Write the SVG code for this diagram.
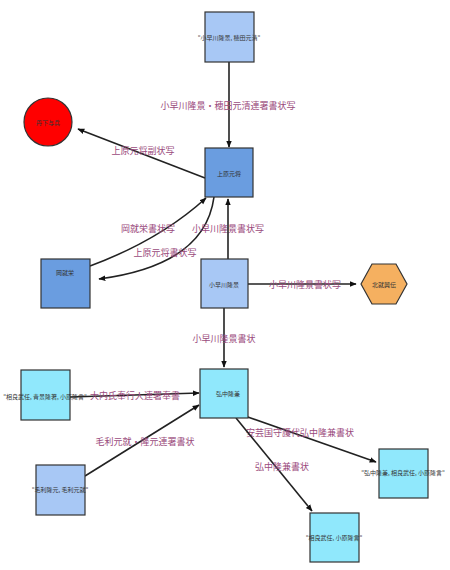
<svg xmlns="http://www.w3.org/2000/svg" width="450" height="570" viewBox="0 0 450 570">
<style>
.n{stroke:#333;stroke-width:1.2}
.nl{font-family:"Noto Sans CJK JP","Noto Sans",sans-serif;font-size:6px;fill:#333;text-anchor:middle;dominant-baseline:central}
.e{fill:none;stroke:#222;stroke-width:1.6;marker-end:url(#a)}
.el{font-family:"Noto Sans CJK JP","Noto Sans",sans-serif;font-size:9px;fill:#9a4a7c;text-anchor:middle;dominant-baseline:central}
</style>
<defs>
<marker id="a" viewBox="0 0 10 10" refX="9" refY="5" markerWidth="7" markerHeight="7" orient="auto" markerUnits="userSpaceOnUse">
<path d="M0,1 L10,5 L0,9 z" fill="#111"/>
</marker>
</defs>
<rect width="450" height="570" fill="#fff"/>
<g id="edges">
<path class="e" d="M229,62 L229,147"/>
<text class="el" x="228" y="105">小早川隆景・穂田元清連署書状写</text>
<path class="e" d="M205,178 L78,129"/>
<text class="el" x="143" y="150">上原元将副状写</text>
<path class="e" d="M90,266 Q160,240 206,198"/>
<path class="e" d="M214,197 Q205,265 99,279"/>
<text class="el" x="148" y="228">岡就栄書状写</text>
<text class="el" x="228" y="228">小早川隆景書状写</text>
<text class="el" x="165" y="252">上原元将書状写</text>
<path class="e" d="M228,259 L228,199"/>
<path class="e" d="M248,284 L356,284"/>
<text class="el" x="305" y="284">小早川隆景書状写</text>
<path class="e" d="M224,308 L224,367"/>
<text class="el" x="224" y="338">小早川隆景書状</text>
<path class="e" d="M70,397 L199,393"/>
<text class="el" x="135" y="395">大内氏奉行人連署奉書</text>
<path class="e" d="M85,476 L199,405"/>
<text class="el" x="145" y="441">毛利元就・隆元連署書状</text>
<path class="e" d="M242,415 L376,462"/>
<text class="el" x="300" y="432">安芸国守護代弘中隆兼書状</text>
<path class="e" d="M236,418 L312,511"/>
<text class="el" x="282" y="466">弘中隆兼書状</text>
</g>
<g id="n1"><rect class="n" x="205" y="12" width="49" height="50" fill="#a8c8f5"/><text class="nl" x="229" y="37">"小早川隆景, 穂田元清"</text></g>
<g id="n2"><rect class="n" x="205" y="148" width="48" height="49" fill="#6a9de0"/><text class="nl" x="229" y="173">上原元将</text></g>
<g id="n3"><circle class="n" cx="48" cy="122" r="24" fill="#f00"/><text class="nl" x="48" y="122">丹下与兵</text></g>
<g id="n4"><rect class="n" x="41" y="259" width="49" height="49" fill="#6a9de0"/><text class="nl" x="65" y="272">岡就栄</text></g>
<g id="n5"><rect class="n" x="201" y="259" width="47" height="49" fill="#a8c8f5"/><text class="nl" x="224" y="284">小早川隆景</text></g>
<g id="n6"><polygon class="n" points="361,284 372,264 396,264 407,284 396,304 372,304" fill="#f5b060"/><text class="nl" x="384" y="284">北就興伝</text></g>
<g id="n7"><rect class="n" x="200" y="369" width="48" height="49" fill="#90e8fc"/><text class="nl" x="228" y="393">弘中隆兼</text></g>
<g id="n8"><rect class="n" x="21" y="370" width="49" height="50" fill="#90e8fc"/><text class="nl" x="45" y="396">"相良武任, 青景隆著, 小原隆言"</text></g>
<g id="n9"><rect class="n" x="36" y="465" width="49" height="50" fill="#a8c8f5"/><text class="nl" x="60" y="489">"毛利隆元, 毛利元就"</text></g>
<g id="n10"><rect class="n" x="379" y="449" width="49" height="49" fill="#90e8fc"/><text class="nl" x="403" y="472">"弘中隆兼, 相良武任, 小原隆言"</text></g>
<g id="n11"><rect class="n" x="310" y="513" width="49" height="49" fill="#90e8fc"/><text class="nl" x="334" y="537">"相良武任, 小原隆言"</text></g>
</svg>
